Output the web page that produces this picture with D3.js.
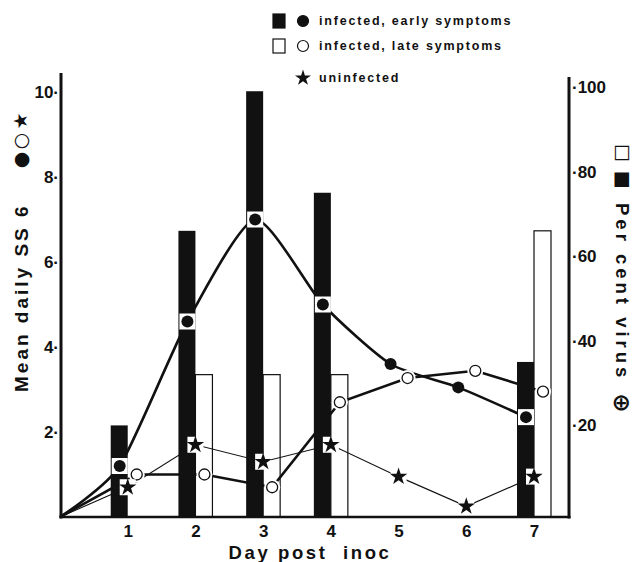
<!DOCTYPE html>
<html lang="en">
<head>
<meta charset="UTF-8">
<script src="https://cdn.jsdelivr.net/npm/d3@7"></script>
<style>
  body { margin: 0; background: #fff; }
  text { font-family: "Liberation Sans", Arial, sans-serif; font-weight: bold; fill: #111; }
  text.sym { font-family: "DejaVu Sans", sans-serif; }
</style>
</head>
<body>
<script>
// values
const days = [1, 2, 3, 4, 5, 6, 7];
const earlySS = [1.2, 4.6, 7.0, 5.0, 3.6, 3.05, 2.35];
const lateSS = [1.0, 1.0, 0.7, 2.7, 3.27, 3.44, 2.95];
const uninfectedSS = [0.7, 1.7, 1.3, 1.7, 0.95, 0.25, 0.95];
const earlyVirus = [20, 66, 99, 75, 0, 0, 35];   // per cent, black bars
const lateVirus = [0, 32, 32, 32, 0, 0, 66];     // per cent, white bars
const leftTicks = [2, 4, 6, 8, 10];
const rightTicks = [20, 40, 60, 80, 100];
const legendLabels = ["infected, early symptoms", "infected, late symptoms", "uninfected"];

const W = 634, H = 562;
const svg = d3.select("body").append("svg").attr("width", W).attr("height", H);
svg.append("rect").attr("width", W).attr("height", H).attr("fill", "#fff");

const x = d3.scaleLinear().domain([0, 7]).range([60, 534]);
const yL = d3.scaleLinear().domain([0, 10]).range([517, 92]);
const yR = d3.scaleLinear().domain([0, 100]).range([510, 87]);
const base = yL(0);
const barW = 17;
const ink = "#111";
const star = d3.symbol(d3.symbolStar, 95)();

// white bars (under the lines)
svg.selectAll(".late-bar")
    .data(days.filter((d, i) => lateVirus[i] > 0))
    .enter().append("rect")
    .attr("x", d => x(d))
    .attr("y", d => yR(lateVirus[d - 1]))
    .attr("width", barW)
    .attr("height", d => base - yR(lateVirus[d - 1]))
    .attr("fill", "#fff")
    .attr("stroke", ink)
    .attr("stroke-width", 1.2);

// lines, all starting at the origin
const pts = (vals, off) => [[x(0), yL(0)]].concat(vals.map((v, i) => [x(days[i]) + off, yL(v)]));

svg.append("path")
    .attr("d", d3.line().curve(d3.curveCardinal.tension(0.35))(pts(earlySS, -8)))
    .attr("fill", "none").attr("stroke", ink).attr("stroke-width", 2.6);
svg.append("path")
    .attr("d", d3.line()(pts(lateSS, 9)))
    .attr("fill", "none").attr("stroke", ink).attr("stroke-width", 2.6);
svg.append("path")
    .attr("d", d3.line()(pts(uninfectedSS, 0)))
    .attr("fill", "none").attr("stroke", ink).attr("stroke-width", 1.1);

// black bars (over the lines)
svg.selectAll(".early-bar")
    .data(days.filter((d, i) => earlyVirus[i] > 0))
    .enter().append("rect")
    .attr("x", d => x(d) - barW)
    .attr("y", d => yR(earlyVirus[d - 1]))
    .attr("width", barW)
    .attr("height", d => base - yR(earlyVirus[d - 1]))
    .attr("fill", ink);

// markers
const sq = 16;
days.forEach((d, i) => {
    // early: filled circle, white square when sitting on a bar
    const ex = x(d) - 8, ey = yL(earlySS[i]);
    if (earlyVirus[i] > 0)
        svg.append("rect").attr("x", ex - sq / 2).attr("y", ey - sq / 2)
            .attr("width", sq).attr("height", sq).attr("fill", "#fff");
    svg.append("circle").attr("cx", ex).attr("cy", ey).attr("r", 6).attr("fill", ink);

    // late: open circle
    const lx = x(d) + 9, ly = yL(lateSS[i]);
    svg.append("circle").attr("cx", lx).attr("cy", ly).attr("r", 8).attr("fill", "#fff");
    svg.append("circle").attr("cx", lx).attr("cy", ly).attr("r", 5.5)
        .attr("fill", "#fff").attr("stroke", ink).attr("stroke-width", 1.3);

    // uninfected: star
    const ux = x(d), uy = yL(uninfectedSS[i]);
    svg.append("rect").attr("x", ux - 8).attr("y", uy - 8)
        .attr("width", 16).attr("height", 16).attr("fill", "#fff");
    svg.append("path").attr("d", star)
        .attr("transform", `translate(${ux},${uy})`).attr("fill", ink);
});

// axes
const leftAxis = svg.append("g")
    .attr("transform", "translate(61,0)")
    .call(d3.axisLeft(yL).tickValues(leftTicks).tickSize(0).tickPadding(2).tickFormat(d => d + "·"));
const rightAxis = svg.append("g")
    .attr("transform", "translate(569,0)")
    .call(d3.axisRight(yR).tickValues(rightTicks).tickSize(0).tickPadding(3).tickFormat(d => "·" + d));
const bottomAxis = svg.append("g")
    .attr("transform", `translate(0,${base})`)
    .call(d3.axisBottom(x).tickValues(days).tickSize(0).tickPadding(8).tickFormat(d3.format("d")));
[leftAxis, rightAxis, bottomAxis].forEach(g => {
    g.select(".domain").remove();
    g.selectAll("text").attr("font-size", 17).attr("font-family", null).attr("fill", ink);
});

svg.append("line").attr("x1", 61).attr("x2", 61).attr("y1", 73).attr("y2", base + 1.5)
    .attr("stroke", ink).attr("stroke-width", 3);
svg.append("line").attr("x1", 569).attr("x2", 569).attr("y1", 77).attr("y2", base + 1.5)
    .attr("stroke", ink).attr("stroke-width", 3);
svg.append("line").attr("x1", 59.5).attr("x2", 570.5).attr("y1", base).attr("y2", base)
    .attr("stroke", ink).attr("stroke-width", 2.5);

// left axis title with its symbol key
const rotL = (tx, ty) => `translate(${tx},${ty}) rotate(-90)`;
svg.append("text")
    .attr("transform", rotL(28, 392))
    .attr("font-size", 19).attr("letter-spacing", 3)
    .attr("xml:space", "preserve")
    .text("Mean daily SS 6");
[["●", 160], ["○", 141], ["★", 121]].forEach(([s, ty]) => {
    svg.append("text").attr("class", "sym").attr("transform", rotL(27, ty))
        .attr("text-anchor", "middle").attr("font-size", 19).text(s);
});

// right axis title with its symbol key
const rotR = (tx, ty) => `translate(${tx},${ty}) rotate(90)`;
[["□", 153], ["■", 180]].forEach(([s, ty]) => {
    svg.append("text").attr("class", "sym").attr("transform", rotR(617, ty))
        .attr("text-anchor", "middle").attr("font-size", 19).text(s);
});
svg.append("text")
    .attr("transform", rotR(616, 203))
    .attr("font-size", 18.5).attr("letter-spacing", 4)
    .attr("xml:space", "preserve")
    .text("Per cent virus");
svg.append("text").attr("class", "sym")
    .attr("transform", rotR(614, 403))
    .attr("text-anchor", "middle").attr("font-size", 23)
    .text("⊕");

svg.append("text")
    .attr("x", 310).attr("y", 559)
    .attr("text-anchor", "middle")
    .attr("font-size", 18.5).attr("letter-spacing", 2.6)
    .attr("xml:space", "preserve")
    .text("Day post  inoc");

// legend
const legend = svg.selectAll(".legend")
    .data(legendLabels)
    .enter().append("g")
    .attr("transform", (d, i) => `translate(0,${[21, 46, 78][i]})`);
legend.filter((d, i) => i < 2).append("rect")
    .attr("x", 273).attr("y", -7).attr("width", 12).attr("height", 14)
    .attr("fill", (d, i) => i === 0 ? ink : "#fff")
    .attr("stroke", ink).attr("stroke-width", 1.2);
legend.filter((d, i) => i < 2).append("circle")
    .attr("cx", 303).attr("r", 5.5)
    .attr("fill", (d, i) => i === 0 ? ink : "#fff")
    .attr("stroke", ink).attr("stroke-width", 1.2);
legend.filter((d, i) => i === 2).append("path")
    .attr("d", d3.symbol(d3.symbolStar, 80)())
    .attr("transform", "translate(303,0)").attr("fill", ink);
legend.append("text")
    .attr("x", 319).attr("dy", "0.35em")
    .attr("font-size", 12.5).attr("letter-spacing", 1.8)
    .text(d => d);
</script>
</body>
</html>
